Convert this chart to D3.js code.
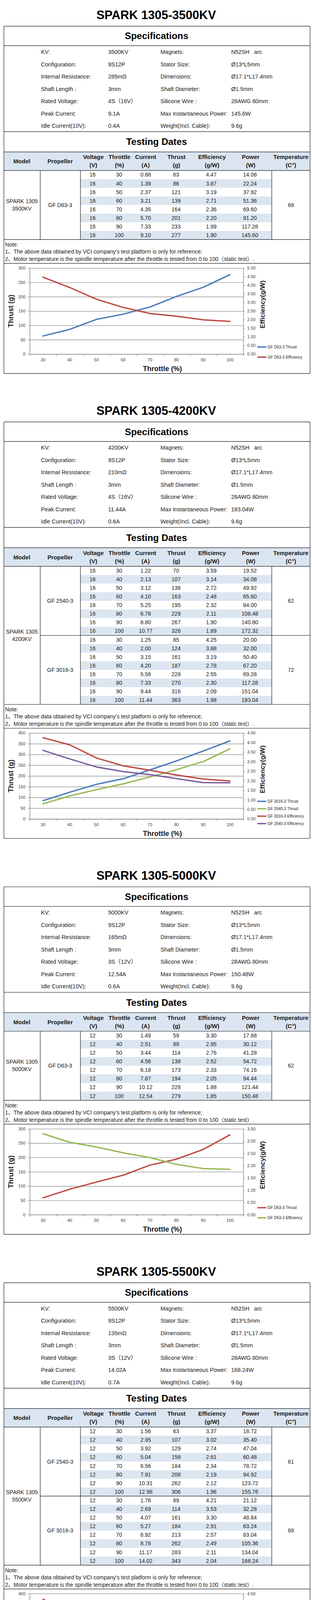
<!DOCTYPE html>
<html>
<head>
<meta charset="utf-8">
<script src="https://cdn.jsdelivr.net/npm/d3@7/dist/d3.min.js"></script>
<style>
    body { margin: 0; background: #fff; }
    svg text { font-family: "Liberation Sans", Arial, "Noto Sans CJK SC", sans-serif; fill: #1a1a1a; white-space: pre; }
</style>
</head>
<body>
<svg id="chart" width="799" height="4358"></svg>
<script>
// ---- data ----
var throttle = [30, 40, 50, 60, 70, 80, 90, 100];

var specNamesLeft = ["KV:", "Configuration:", "Internal Resistance:", "Shaft Length :", "Rated Voltage:", "Peak Current:", "Idle Current(10V):"];
var specNamesRight = ["Magnets:", "Stator Size:", "Dimensions:", "Shaft Diameter:", "Silicone Wire :", "Max Instantaneous Power:", "Weight(Incl. Cable):"];

var spec3500Left = ["3500KV", "9S12P", "285mΩ", "3mm", "4S（16V）", "9.1A", "0.4A"];
var spec3500Right = ["N52SH   arc", "Ø13*L5mm", "Ø17.1*L17.4mm", "Ø1.5mm", "28AWG 80mm", "145.6W", "9.6g"];
var spec4200Left = ["4200KV", "9S12P", "210mΩ", "3mm", "4S（16V）", "11.44A", "0.6A"];
var spec4200Right = ["N52SH   arc", "Ø13*L5mm", "Ø17.1*L17.4mm", "Ø1.5mm", "28AWG 80mm", "183.04W", "9.6g"];
var spec5000Left = ["5000KV", "9S12P", "165mΩ", "3mm", "3S（12V）", "12.54A", "0.6A"];
var spec5000Right = ["N52SH   arc", "Ø13*L5mm", "Ø17.1*L17.4mm", "Ø1.5mm", "28AWG 80mm", "150.48W", "9.6g"];
var spec5500Left = ["5500KV", "9S12P", "135mΩ", "3mm", "3S（12V）", "14.02A", "0.7A"];
var spec5500Right = ["N52SH   arc", "Ø13*L5mm", "Ø17.1*L17.4mm", "Ø1.5mm", "28AWG 80mm", "168.24W", "9.6g"];

var headNames = ["Voltage", "Throttle", "Current", "Thrust", "Efficiency", "Power"];
var headUnits = ["(V)", "(%)", "(A)", "(g)", "(g/W)", "(W)"];

var notes = [
    "Note:",
    "1、The above data obtained by VCI company's test platform is only for reference;",
    "2、Motor temperature is the spindle temperature after the throttle is tested from 0 to 100（static test）."
];

// 3500KV, GF D63-3
var cur3500D63 = [0.88, 1.39, 2.37, 3.21, 4.35, 5.70, 7.33, 9.10];
var thr3500D63 = [63, 86, 121, 139, 164, 201, 233, 277];
var eff3500D63 = [4.47, 3.87, 3.19, 2.71, 2.36, 2.20, 1.99, 1.90];
var pow3500D63 = [14.08, 22.24, 37.92, 51.36, 69.60, 91.20, 117.28, 145.60];

// 4200KV, GF 2540-3 / GF 3016-3
var cur4200P2540 = [1.22, 2.13, 3.12, 4.10, 5.25, 6.78, 8.80, 10.77];
var thr4200P2540 = [70, 107, 136, 163, 195, 229, 267, 326];
var eff4200P2540 = [3.59, 3.14, 2.72, 2.48, 2.32, 2.11, 1.90, 1.89];
var pow4200P2540 = [19.52, 34.08, 49.92, 65.60, 84.00, 108.48, 140.80, 172.32];
var cur4200P3016 = [1.25, 2.00, 3.15, 4.20, 5.58, 7.33, 9.44, 11.44];
var thr4200P3016 = [85, 124, 161, 187, 228, 270, 316, 363];
var eff4200P3016 = [4.25, 3.88, 3.19, 2.78, 2.55, 2.30, 2.09, 1.98];
var pow4200P3016 = [20.00, 32.00, 50.40, 67.20, 89.28, 117.28, 151.04, 183.04];

// 5000KV, GF D63-3
var cur5000D63 = [1.49, 2.51, 3.44, 4.56, 6.18, 7.87, 10.12, 12.54];
var thr5000D63 = [59, 89, 114, 138, 173, 194, 228, 279];
var eff5000D63 = [3.30, 2.95, 2.76, 2.52, 2.33, 2.05, 1.88, 1.85];
var pow5000D63 = [17.88, 30.12, 41.28, 54.72, 74.16, 94.44, 121.44, 150.48];

// 5500KV, GF 2540-3 / GF 3016-3
var cur5500P2540 = [1.56, 2.95, 3.92, 5.04, 6.56, 7.91, 10.31, 12.98];
var thr5500P2540 = [63, 107, 129, 158, 184, 208, 262, 306];
var eff5500P2540 = [3.37, 3.02, 2.74, 2.61, 2.34, 2.19, 2.12, 1.96];
var pow5500P2540 = [18.72, 35.40, 47.04, 60.48, 78.72, 94.92, 123.72, 155.76];
var cur5500P3016 = [1.76, 2.69, 4.07, 5.27, 6.92, 8.78, 11.17, 14.02];
var thr5500P3016 = [89, 114, 161, 184, 213, 262, 283, 343];
var eff5500P3016 = [4.21, 3.53, 3.30, 2.91, 2.57, 2.49, 2.11, 2.04];
var pow5500P3016 = [21.12, 32.28, 48.84, 63.24, 83.04, 105.36, 134.04, 168.24];

// axis ticks
var thrustTicks300 = [0, 50, 100, 150, 200, 250, 300];
var thrustTicks400 = [0, 50, 100, 150, 200, 250, 300, 350, 400];
var effTicks500 = [0, 0.5, 1, 1.5, 2, 2.5, 3, 3.5, 4, 4.5, 5];
var effTicks450 = [0, 0.5, 1, 1.5, 2, 2.5, 3, 3.5, 4, 4.5];
var effTicks350 = [0, 0.5, 1, 1.5, 2, 2.5, 3, 3.5];

var blue = "#4a7ebb", red = "#be4b48", green = "#98b954", purple = "#7d60a0";

// table the drawing code walks through, built from the arrays above
var motors = [
    { name: "SPARK 1305-3500KV", kv: "3500KV", volt: 16, specLeft: spec3500Left, specRight: spec3500Right,
      props: [{ name: "GF D63-3", temp: 68, cur: cur3500D63, thr: thr3500D63, eff: eff3500D63, pow: pow3500D63 }],
      thrustTicks: thrustTicks300, effTicks: effTicks500,
      series: [
          { label: "GF D63-3 Thrust", values: thr3500D63, axis: "L", color: blue },
          { label: "GF D63-3 Efficiency", values: eff3500D63, axis: "R", color: red }
      ] },
    { name: "SPARK 1305-4200KV", kv: "4200KV", volt: 16, specLeft: spec4200Left, specRight: spec4200Right,
      props: [{ name: "GF 2540-3", temp: 62, cur: cur4200P2540, thr: thr4200P2540, eff: eff4200P2540, pow: pow4200P2540 },
              { name: "GF 3016-3", temp: 72, cur: cur4200P3016, thr: thr4200P3016, eff: eff4200P3016, pow: pow4200P3016 }],
      thrustTicks: thrustTicks400, effTicks: effTicks450,
      series: [
          { label: "GF 3016-3 Thrust", values: thr4200P3016, axis: "L", color: blue },
          { label: "GF 2540-3 Thrust", values: thr4200P2540, axis: "L", color: green },
          { label: "GF 3016-3 Efficiency", values: eff4200P3016, axis: "R", color: red },
          { label: "GF 2540-3 Efficiency", values: eff4200P2540, axis: "R", color: purple }
      ] },
    { name: "SPARK 1305-5000KV", kv: "5000KV", volt: 12, specLeft: spec5000Left, specRight: spec5000Right,
      props: [{ name: "GF D63-3", temp: 62, cur: cur5000D63, thr: thr5000D63, eff: eff5000D63, pow: pow5000D63 }],
      thrustTicks: thrustTicks300, effTicks: effTicks350,
      series: [
          { label: "GF D63-3 Thrust", values: thr5000D63, axis: "L", color: red },
          { label: "GF D63-3 Efficiency", values: eff5000D63, axis: "R", color: green }
      ] },
    { name: "SPARK 1305-5500KV", kv: "5500KV", volt: 12, specLeft: spec5500Left, specRight: spec5500Right,
      props: [{ name: "GF 2540-3", temp: 61, cur: cur5500P2540, thr: thr5500P2540, eff: eff5500P2540, pow: pow5500P2540 },
              { name: "GF 3016-3", temp: 68, cur: cur5500P3016, thr: thr5500P3016, eff: eff5500P3016, pow: pow5500P3016 }],
      thrustTicks: thrustTicks400, effTicks: effTicks450,
      series: [
          { label: "GF 3016-3 Thrust", values: thr5500P3016, axis: "L", color: blue },
          { label: "GF 2540-3 Thrust", values: thr5500P2540, axis: "L", color: green },
          { label: "GF 3016-3 Efficiency", values: eff5500P3016, axis: "R", color: red },
          { label: "GF 2540-3 Efficiency", values: eff5500P2540, axis: "R", color: purple }
      ] }
];

// ---- layout ----
var boxL = 10, boxR = 794;
var rowH = 22.1;
var lineModel = 103, lineProp = 206, lineTemp = 696;
var headX = [239, 306, 373, 452, 543, 642];
var cellX = [237, 305, 373, 451, 541, 640];
var plotL = 76, plotR = 623;

var svg = d3.select("#chart");

function addText(parent, x, y, str, size, weight, anchor) {
    return parent.append("text")
        .attr("x", x)
        .attr("y", y)
        .attr("dy", "0.35em")
        .attr("text-anchor", anchor || "middle")
        .style("font-size", size + "px")
        .style("font-weight", weight || "normal")
        .text(str);
}

function hLine(parent, x1, x2, y) {
    parent.append("line")
        .attr("x1", x1).attr("x2", x2)
        .attr("y1", y).attr("y2", y)
        .attr("stroke", "#3a3a3a")
        .attr("stroke-width", 1.4);
}

function vLine(parent, x, y1, y2) {
    parent.append("line")
        .attr("x1", x).attr("x2", x)
        .attr("y1", y1).attr("y2", y2)
        .attr("stroke", "#3a3a3a")
        .attr("stroke-width", 1.4);
}

function drawChart(g, m, plotTop, plotBottom) {
    var x = d3.scaleBand().domain(throttle).range([plotL, plotR]);
    var xEdge = d3.scaleLinear().domain([0, throttle.length]).range([plotL, plotR]);
    var yL = d3.scaleLinear().domain([0, d3.max(m.thrustTicks)]).range([plotBottom, plotTop]);
    var yR = d3.scaleLinear().domain([0, d3.max(m.effTicks)]).range([plotBottom, plotTop]);

    // gridlines on the thrust ticks
    var grid = g.append("g")
        .attr("transform", "translate(" + plotL + ",0)")
        .call(d3.axisLeft(yL).tickValues(m.thrustTicks).tickSize(-(plotR - plotL)).tickFormat(""));
    grid.select(".domain").remove();
    grid.selectAll("line").attr("stroke", "#a3a3a3").attr("stroke-width", 1.6);

    var left = g.append("g")
        .attr("transform", "translate(" + plotL + ",0)")
        .attr("color", "#888")
        .call(d3.axisLeft(yL).tickValues(m.thrustTicks).tickSize(5).tickSizeOuter(0).tickPadding(6).tickFormat(d3.format("d")));
    var right = g.append("g")
        .attr("transform", "translate(" + plotR + ",0)")
        .attr("color", "#888")
        .call(d3.axisRight(yR).tickValues(m.effTicks).tickSize(4).tickSizeOuter(0).tickPadding(6).tickFormat(d3.format(".2f")));
    var bottom = g.append("g")
        .attr("transform", "translate(0," + plotBottom + ")")
        .attr("color", "#888")
        .call(d3.axisBottom(xEdge).tickValues(d3.range(throttle.length + 1)).tickSize(5).tickSizeOuter(0).tickFormat(""));
    var labels = g.append("g")
        .attr("transform", "translate(0," + plotBottom + ")")
        .call(d3.axisBottom(x).tickSize(0).tickPadding(11));
    labels.select(".domain").remove();

    [left, right, bottom].forEach(function (a) {
        a.select(".domain").attr("stroke-width", 1.5);
        a.selectAll(".tick line").attr("stroke-width", 1.2);
    });
    [left, right, labels].forEach(function (a) {
        a.selectAll("text").style("font-size", "11px").style("fill", "#404040");
    });

    // series
    m.series.forEach(function (s) {
        var yScale = s.axis === "L" ? yL : yR;
        var line = d3.line()
            .x(function (d, i) { return x(throttle[i]) + x.bandwidth() / 2; })
            .y(function (d) { return yScale(d); });
        g.append("path")
            .datum(s.values)
            .attr("d", line)
            .attr("fill", "none")
            .attr("stroke", s.color)
            .attr("stroke-width", 3.5)
            .attr("stroke-linejoin", "round")
            .attr("stroke-linecap", "round");
    });

    // axis titles
    var mid = (plotTop + plotBottom) / 2;
    addText(g, 0, 0, "Thrust (g)", 18, "bold")
        .attr("transform", "translate(28," + mid + ") rotate(-90)");
    addText(g, 0, 0, "Efficiency(g/W)", 17, "bold")
        .attr("transform", "translate(672," + (mid - 17) + ") rotate(-90)");
    addText(g, 416, plotBottom + 37, "Throttle (%)", 18, "bold");

    // legend
    var n = m.series.length;
    var step = n > 2 ? 19 : 26;
    var first = plotBottom - (n > 2 ? 45 : 18);
    m.series.forEach(function (s, i) {
        var ly = first + i * step;
        g.append("line")
            .attr("x1", 659).attr("x2", 682)
            .attr("y1", ly).attr("y2", ly)
            .attr("stroke", s.color)
            .attr("stroke-width", 3.5);
        addText(g, 685, ly, s.label, 10, "normal", "start");
    });
}

function drawMotor(m, T) {
    var g = svg.append("g");
    var specTop = T + 29, specHead = T + 79, specEnd = T + 299;
    var tableTop = T + 351, headBottom = T + 398.5;
    var nRows = m.props.length * throttle.length;
    var tableBottom = headBottom + nRows * rowH;
    var chartTop = tableBottom + 61;
    var plotTop = tableBottom + 73, plotBottom = tableBottom + 293;
    var boxBottom = tableBottom + 343;

    // fills first
    g.append("rect")
        .attr("x", boxL).attr("y", tableTop)
        .attr("width", boxR - boxL).attr("height", headBottom - tableTop)
        .attr("fill", "#dbe5f1");
    m.props.forEach(function (p, pi) {
        throttle.forEach(function (t, i) {
            if (i % 2 === 1) {
                g.append("rect")
                    .attr("x", lineProp).attr("y", headBottom + (pi * throttle.length + i) * rowH)
                    .attr("width", lineTemp - lineProp).attr("height", rowH)
                    .attr("fill", "#dce6f1");
            }
        });
    });

    // title and specifications
    addText(g, 400, T, m.name, 31, "bold").style("fill", "#000");
    addText(g, 401, T + 54, "Specifications", 24, "bold").style("fill", "#000");
    for (var i = 0; i < specNamesLeft.length; i++) {
        var sy = T + 95 + i * 31.5;
        addText(g, 105, sy, specNamesLeft[i], 14.5, "normal", "start");
        addText(g, 277, sy, m.specLeft[i], 14.5, "normal", "start");
        addText(g, 411, sy, specNamesRight[i], 14.5, "normal", "start");
        addText(g, 592, sy, m.specRight[i], 14.5, "normal", "start");
    }
    addText(g, 401, T + 325, "Testing Dates", 24, "bold").style("fill", "#000");

    // table header
    addText(g, 56, T + 375, "Model", 15, "bold");
    addText(g, 154, T + 375, "Propeller", 15, "bold");
    headNames.forEach(function (h, k) {
        addText(g, headX[k], T + 364, h, 15, "bold");
        addText(g, headX[k], T + 385, headUnits[k], 15, "bold");
    });
    addText(g, 745, T + 364, "Temperature", 15, "bold");
    addText(g, 745, T + 385, "(C°)", 15, "bold");

    // table body
    var bodyMid = (headBottom + tableBottom) / 2;
    addText(g, 56, bodyMid - 10, "SPARK 1305", 14, "normal");
    addText(g, 56, bodyMid + 9, m.kv, 14, "normal");
    m.props.forEach(function (p, pi) {
        var groupTop = headBottom + pi * throttle.length * rowH;
        var groupMid = groupTop + throttle.length * rowH / 2;
        addText(g, 154, groupMid, p.name, 14, "normal");
        addText(g, 745, groupMid, p.temp, 14, "normal");
        throttle.forEach(function (t, r) {
            var ry = groupTop + r * rowH + rowH / 2;
            var cells = [m.volt, t, p.cur[r].toFixed(2), p.thr[r], p.eff[r].toFixed(2), p.pow[r].toFixed(2)];
            cells.forEach(function (c, k) {
                addText(g, cellX[k], ry, c, 14, "normal");
            });
        });
        if (pi > 0) {
            hLine(g, lineModel, boxR, groupTop);
        }
    });

    // notes
    notes.forEach(function (txt, k) {
        addText(g, 13, tableBottom + [13, 31, 50][k], txt, 14, "normal", "start");
    });

    // frame
    [specTop, specHead, specEnd, tableTop, headBottom, tableBottom, chartTop, boxBottom].forEach(function (y) {
        hLine(g, boxL, boxR, y);
    });
    vLine(g, boxL, specTop, boxBottom);
    vLine(g, boxR, specTop, boxBottom);
    [lineModel, lineProp, lineTemp].forEach(function (x) {
        vLine(g, x, headBottom, tableBottom);
    });

    drawChart(g, m, plotTop, plotBottom);
    return boxBottom;
}

var sectionTop = 38;
motors.forEach(function (m) {
    sectionTop = drawMotor(m, sectionTop) + 95;
});
</script>
</body>
</html>
